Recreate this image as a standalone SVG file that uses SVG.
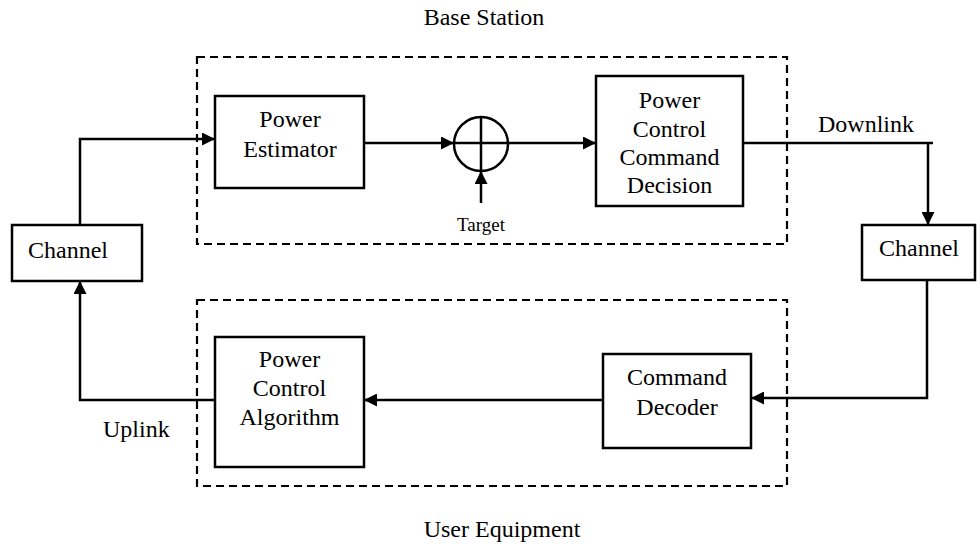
<svg xmlns="http://www.w3.org/2000/svg" width="980" height="547" viewBox="0 0 980 547">
<defs>
<marker id="ah" markerWidth="13" markerHeight="13" refX="13" refY="6.5" orient="auto" markerUnits="userSpaceOnUse">
<path d="M0,0 L13,6.5 L0,13 Z" fill="#000"/>
</marker>
<style>
.box{fill:#fff;stroke:#000;stroke-width:2.5}
.dash{fill:none;stroke:#000;stroke-width:2.2;stroke-dasharray:8 5}
.t{font-family:"Liberation Serif","Times New Roman",serif;font-size:24px;fill:#000}
.c{text-anchor:middle}
.ln{fill:none;stroke:#000;stroke-width:2.5}
</style>
</defs>
<rect width="980" height="547" fill="#fff"/>
<g id="base-station">
<rect class="dash" x="197" y="57" width="590" height="187"/>
<text class="t c" x="484" y="25">Base Station</text>
</g>
<g id="user-equipment">
<rect class="dash" x="197" y="300" width="590" height="186"/>
<text class="t c" x="502" y="537">User Equipment</text>
</g>
<g id="connectors">
<path class="ln" d="M80,225 V139 H215" marker-end="url(#ah)"/>
<path class="ln" d="M364,143 H454" marker-end="url(#ah)"/>
<path class="ln" d="M508,143 H596" marker-end="url(#ah)"/>
<path class="ln" d="M481,203 V171" marker-end="url(#ah)"/>
<path class="ln" d="M743,143 H933"/>
<path class="ln" d="M928,143 V225" marker-end="url(#ah)"/>
<path class="ln" d="M927,280 V398 H751" marker-end="url(#ah)"/>
<path class="ln" d="M603,400 H364" marker-end="url(#ah)"/>
<path class="ln" d="M215,400 H80 V281" marker-end="url(#ah)"/>
</g>
<g id="power-estimator">
<rect class="box" x="215" y="96" width="149" height="92"/>
<text class="t c" x="290" y="127">Power</text>
<text class="t c" x="290" y="157">Estimator</text>
</g>
<g id="summer">
<circle cx="481" cy="144" r="27" fill="none" stroke="#000" stroke-width="2.5"/>
<line x1="454" y1="143" x2="508" y2="143" stroke="#000" stroke-width="2.5"/>
<line x1="481" y1="117" x2="481" y2="171" stroke="#000" stroke-width="2.5"/>
</g>
<g id="target">
<text class="t c" x="481" y="231" style="font-size:19px">Target</text>
</g>
<g id="pccd">
<rect class="box" x="596" y="76" width="147" height="130"/>
<text class="t c" x="669.5" y="108">Power</text>
<text class="t c" x="669.5" y="137">Control</text>
<text class="t c" x="669.5" y="165">Command</text>
<text class="t c" x="669.5" y="193">Decision</text>
</g>
<g id="channel-left">
<rect class="box" x="12" y="225" width="130" height="56"/>
<text class="t" x="28" y="258">Channel</text>
</g>
<g id="channel-right">
<rect class="box" x="862" y="225" width="113" height="55"/>
<text class="t" x="879" y="256">Channel</text>
</g>
<g id="downlink">
<text class="t" x="818" y="132">Downlink</text>
</g>
<g id="uplink">
<text class="t" x="103" y="437">Uplink</text>
</g>
<g id="pca">
<rect class="box" x="215" y="337" width="149" height="130"/>
<text class="t c" x="289.5" y="367">Power</text>
<text class="t c" x="289.5" y="396">Control</text>
<text class="t c" x="289.5" y="425">Algorithm</text>
</g>
<g id="command-decoder">
<rect class="box" x="603" y="354" width="148" height="94"/>
<text class="t c" x="677" y="385">Command</text>
<text class="t c" x="677" y="415">Decoder</text>
</g>
</svg>
